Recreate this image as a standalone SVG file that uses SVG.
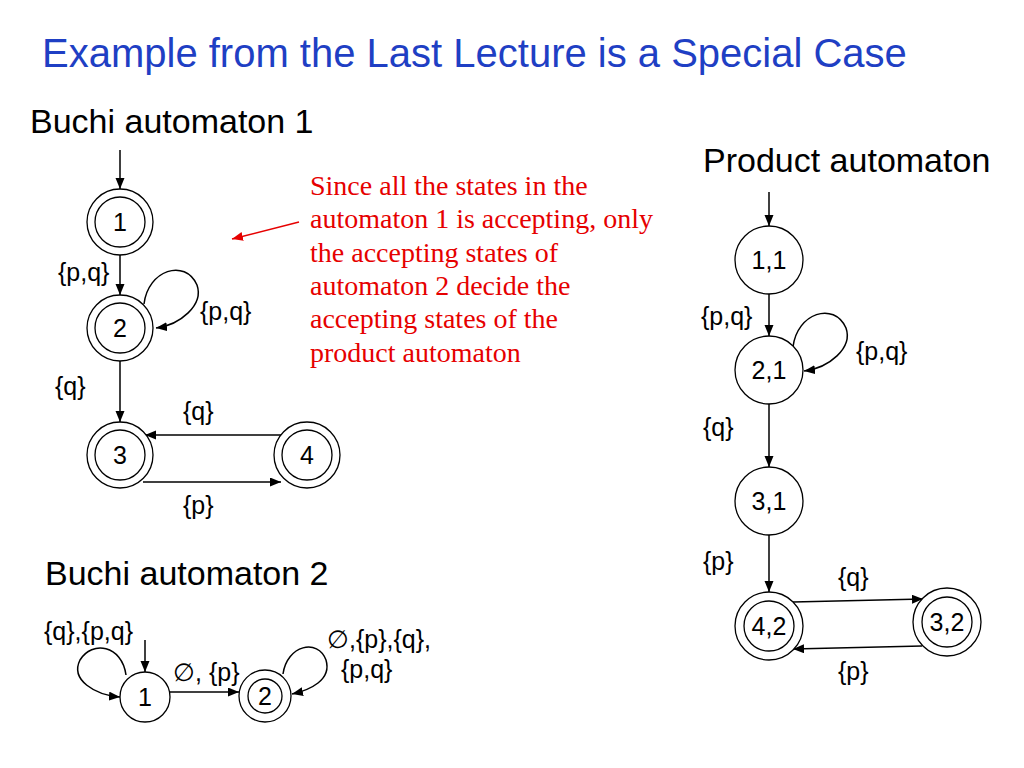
<svg xmlns="http://www.w3.org/2000/svg" width="1024" height="768" viewBox="0 0 1024 768">
<style>
.t{font-family:"Liberation Sans",Arial,sans-serif;fill:#000}
.h{font-size:34px}
.l{font-size:25px}
.n{font-size:25px;text-anchor:middle}
.st{fill:#fff;stroke:#000;stroke-width:1.3}
.e{fill:none;stroke:#000;stroke-width:1.5;marker-end:url(#ah)}
.red{font-family:"Liberation Serif","Times New Roman",serif;font-size:28px;fill:#e60000}
</style>
<defs>
<marker id="ah" markerUnits="userSpaceOnUse" markerWidth="12" markerHeight="10" refX="11" refY="4.5" orient="auto"><path d="M0,0 L11,4.5 L0,9 z" fill="#000"/></marker>
<marker id="ar" markerUnits="userSpaceOnUse" markerWidth="12" markerHeight="10" refX="11" refY="4.5" orient="auto"><path d="M0,0 L11,4.5 L0,9 z" fill="#e60000"/></marker>
</defs>
<rect width="1024" height="768" fill="#fff"/>
<text x="42" y="67" font-family="Liberation Sans,Arial,sans-serif" font-size="40" fill="#1f3fc4">Example from the Last Lecture is a Special Case</text>
<text class="t h" x="30" y="133">Buchi automaton 1</text>
<text class="t h" x="703" y="172">Product automaton</text>
<text class="t h" x="45" y="585">Buchi automaton 2</text>

<g id="note">
<text class="red" x="310" y="195">Since all the states in the</text>
<text class="red" x="310" y="228">automaton 1 is accepting, only</text>
<text class="red" x="310" y="262">the accepting states of</text>
<text class="red" x="310" y="295">automaton 2 decide the</text>
<text class="red" x="310" y="328">accepting states of the</text>
<text class="red" x="310" y="362">product automaton</text>
</g>

<g id="connectors">
<path d="M299,222 L232,239" fill="none" stroke="#e60000" stroke-width="1.5" marker-end="url(#ar)"/>
<!-- automaton 1 -->
<path class="e" d="M120,150 L120,189"/>
<path class="e" d="M120,255 L120,295"/>
<path class="e" d="M144,304 C148,270 185,258 197,285 C204,305 180,325 156,328"/>
<path class="e" d="M120,361 L120,422"/>
<path class="e" d="M281,435 L145,435"/>
<path class="e" d="M143,482 L281,482"/>
<!-- automaton 2 -->
<path class="e" d="M145,640 L145,672"/>
<path class="e" d="M126,675 C122,645 92,640 80,660 C70,680 95,695 120,697"/>
<path class="e" d="M170,692 L239,692"/>
<path class="e" d="M283,674 C287,645 318,638 326,660 C332,680 310,690 292,694"/>
<!-- product -->
<path class="e" d="M769,192 L769,226"/>
<path class="e" d="M769,294 L769,336"/>
<path class="e" d="M793,347 C797,313 834,301 846,328 C853,348 829,368 804,371"/>
<path class="e" d="M769,404 L769,467"/>
<path class="e" d="M769,535 L769,592"/>
<path class="e" d="M793,602 L923,599"/>
<path class="e" d="M922,646 L793,649"/>
</g>

<g id="labels">
<text class="t l" x="58" y="281">{p,q}</text>
<text class="t l" x="200" y="320">{p,q}</text>
<text class="t l" x="55" y="395">{q}</text>
<text class="t l" x="183" y="420">{q}</text>
<text class="t l" x="183" y="514">{p}</text>
<text class="t l" x="44" y="640">{q},{p,q}</text>
<text class="t l" x="173" y="681">∅, {p}</text>
<text class="t l" x="327" y="648">∅,{p},{q},</text>
<text class="t l" x="341" y="678">{p,q}</text>
<text class="t l" x="701" y="325">{p,q}</text>
<text class="t l" x="856" y="360">{p,q}</text>
<text class="t l" x="703" y="436">{q}</text>
<text class="t l" x="703" y="570">{p}</text>
<text class="t l" x="838" y="586">{q}</text>
<text class="t l" x="838" y="680">{p}</text>
</g>

<g id="a1s1"><circle class="st" cx="120" cy="222" r="33"/><circle class="st" cx="120" cy="222" r="25"/><text class="t n" x="120" y="231">1</text></g>
<g id="a1s2"><circle class="st" cx="120" cy="328" r="33"/><circle class="st" cx="120" cy="328" r="25"/><text class="t n" x="120" y="337">2</text></g>
<g id="a1s3"><circle class="st" cx="120" cy="455" r="33"/><circle class="st" cx="120" cy="455" r="25"/><text class="t n" x="120" y="464">3</text></g>
<g id="a1s4"><circle class="st" cx="307" cy="455" r="33"/><circle class="st" cx="307" cy="455" r="25"/><text class="t n" x="307" y="464">4</text></g>

<g id="a2s1"><circle class="st" cx="145" cy="697" r="25"/><text class="t n" x="145" y="706">1</text></g>
<g id="a2s2"><circle class="st" cx="265" cy="696" r="26"/><circle class="st" cx="265" cy="696" r="17"/><text class="t n" x="265" y="705">2</text></g>

<g id="p11"><circle class="st" cx="769" cy="260" r="34"/><text class="t n" x="769" y="269">1,1</text></g>
<g id="p21"><circle class="st" cx="769" cy="370" r="34"/><text class="t n" x="769" y="379">2,1</text></g>
<g id="p31"><circle class="st" cx="769" cy="501" r="34"/><text class="t n" x="769" y="510">3,1</text></g>
<g id="p42"><circle class="st" cx="769" cy="626" r="34"/><circle class="st" cx="769" cy="626" r="25"/><text class="t n" x="769" y="635">4,2</text></g>
<g id="p32"><circle class="st" cx="947" cy="622" r="34"/><circle class="st" cx="947" cy="622" r="25"/><text class="t n" x="947" y="631">3,2</text></g>
</svg>
